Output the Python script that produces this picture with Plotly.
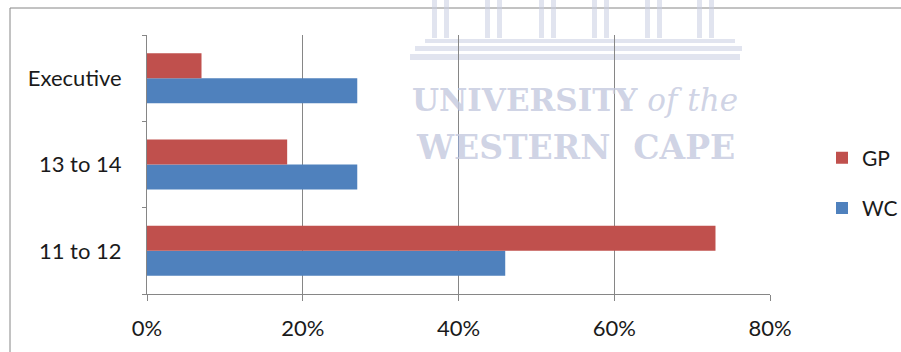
import plotly.graph_objects as go

# Salary band categories (bottom to top) and shares per region
categories = ["11 to 12", "13 to 14", "Executive"]
wc_values = [0.46, 0.27, 0.27]
gp_values = [0.73, 0.18, 0.07]
tick_vals = [0, 0.2, 0.4, 0.6, 0.8]
tick_text = ["0%", "20%", "40%", "60%", "80%"]

W, H = 901, 352
L, R, T, B = 147, 131, 35, 58
pw, ph = W - L - R, H - T - B

def px_x(x):
    return (x - L) / pw

def px_y(y):
    return (H - B - y) / ph

AXIS = "#868686"
FONT = "Lato, 'Open Sans', sans-serif"

fig = go.Figure()
fig.add_trace(go.Bar(y=categories, x=wc_values, orientation="h", name="WC",
                     legendgroup="wc", legendrank=2,
                     marker=dict(color="#4F81BD", line=dict(width=0))))
fig.add_trace(go.Bar(y=categories, x=gp_values, orientation="h", name="GP",
                     legendgroup="gp", legendrank=1,
                     marker=dict(color="#C0504D", line=dict(width=0))))

shapes = [
    # chart frame
    dict(type="rect", xref="paper", yref="paper",
         x0=px_x(10), x1=px_x(1200), y0=px_y(600), y1=px_y(8),
         line=dict(color=AXIS, width=1), layer="below"),
]

# faint watermark columns
WM = "rgba(200,205,225,0.55)"
for cx in [440, 493, 547, 600, 653, 705]:
    for dx in (-8, 4):
        shapes.append(dict(type="rect", xref="paper", yref="paper",
                           x0=px_x(cx + dx), x1=px_x(cx + dx + 5),
                           y0=px_y(38), y1=px_y(0),
                           fillcolor=WM, line=dict(width=0), layer="below"))
for (y0, y1, xa, xb) in [(39, 43, 425, 735), (46, 51, 415, 742), (54, 60, 410, 740)]:
    shapes.append(dict(type="rect", xref="paper", yref="paper",
                       x0=px_x(xa), x1=px_x(xb), y0=px_y(y1), y1=px_y(y0),
                       fillcolor=WM, line=dict(width=0), layer="below"))

WM_FAMILY = "'DejaVu Serif', 'Liberation Serif', serif"
WM_COLOR = "rgba(195,200,222,0.8)"
annotations = [
    dict(text="<b>UNIVERSITY</b> <i>of the</i>", xref="paper", yref="paper",
         x=px_x(575), y=px_y(100), xanchor="center", yanchor="middle",
         showarrow=False, font=dict(family=WM_FAMILY, size=31, color=WM_COLOR)),
    dict(text="<b>WESTERN  CAPE</b>", xref="paper", yref="paper",
         x=px_x(575), y=px_y(147), xanchor="center", yanchor="middle",
         showarrow=False, font=dict(family=WM_FAMILY, size=33, color=WM_COLOR)),
]

fig.update_layout(
    width=W, height=H,
    margin=dict(l=L, r=R, t=T, b=B, autoexpand=False),
    paper_bgcolor="white", plot_bgcolor="rgba(0,0,0,0)",
    barmode="group", bargap=0.42, bargroupgap=0,
    font=dict(family=FONT, size=22, color="#1a1a1a"),
    showlegend=True,
    legend=dict(x=px_x(822), y=px_y(183), xanchor="left", yanchor="middle",
                traceorder="grouped", font=dict(size=21),
                itemsizing="constant", tracegroupgap=20,
                bgcolor="rgba(0,0,0,0)"),
    shapes=shapes,
    annotations=annotations,
)

fig.update_xaxes(
    range=[0, 0.8], tickvals=tick_vals, ticktext=tick_text,
    showgrid=True, gridcolor=AXIS, gridwidth=1, zeroline=False,
    showline=True, linecolor=AXIS, linewidth=1,
    ticks="outside", ticklen=6, tickcolor=AXIS,
    ticklabelstandoff=9, fixedrange=True,
)
fig.update_yaxes(
    type="category", categoryorder="array", categoryarray=categories,
    showgrid=False, zeroline=False,
    showline=True, linecolor=AXIS, linewidth=1,
    ticks="outside", ticklen=4, tickcolor=AXIS, tickson="boundaries",
    ticklabelstandoff=20, fixedrange=True,
)

fig.write_html("out.html")
